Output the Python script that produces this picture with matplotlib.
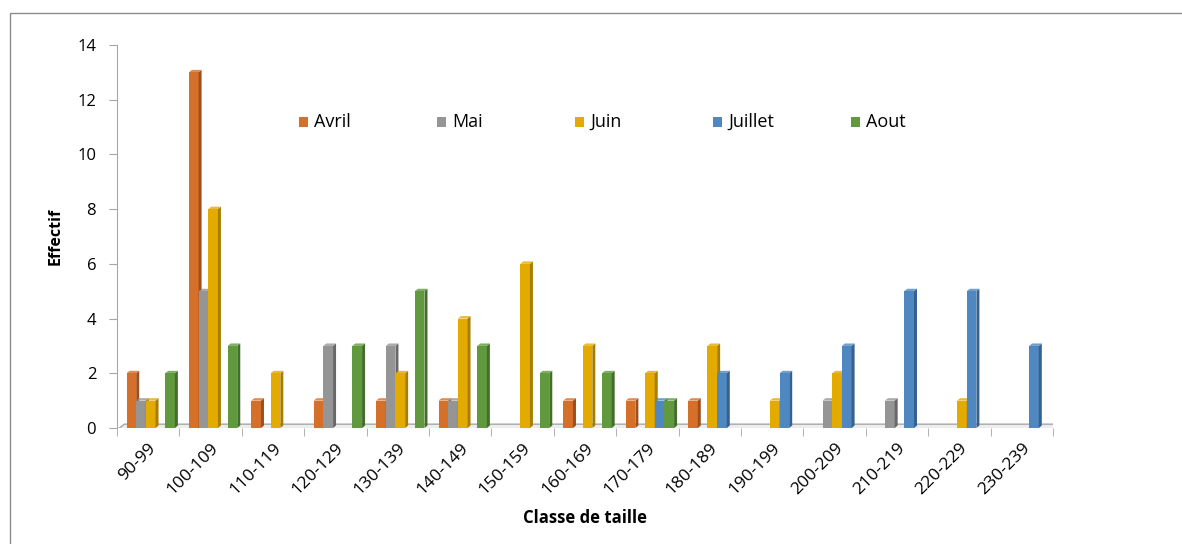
import numpy as np
import matplotlib
matplotlib.use("Agg")
import matplotlib.pyplot as plt
from matplotlib.patches import Polygon, Rectangle

plt.rcParams['font.family'] = ['Open Sans', 'DejaVu Sans']

classes = ["90-99", "100-109", "110-119", "120-129", "130-139", "140-149", "150-159",
           "160-169", "170-179", "180-189", "190-199", "200-209", "210-219", "220-229", "230-239"]
series = ["Avril", "Mai", "Juin", "Juillet", "Aout"]
avril = [2, 13, 1, 1, 1, 1, 0, 1, 1, 1, 0, 0, 0, 0, 0]
mai = [1, 5, 0, 3, 3, 1, 0, 0, 0, 0, 0, 1, 1, 0, 0]
juin = [1, 8, 2, 0, 2, 4, 6, 3, 2, 3, 1, 2, 0, 1, 0]
juillet = [0, 0, 0, 0, 0, 0, 0, 0, 1, 2, 2, 3, 5, 5, 3]
aout = [2, 3, 0, 3, 5, 3, 2, 2, 1, 0, 0, 0, 0, 0, 0]
values = [avril, mai, juin, juillet, aout]
colors = ["#D5702A", "#959595", "#E3AA00", "#4F87C0", "#619A3E"]
sides = ["#9E4F1B", "#686868", "#A87E00", "#36618E", "#436D2A"]

fig = plt.figure(figsize=(11.82, 5.44), dpi=100)
# cadre du graphique
fig.patches.append(Rectangle((10 / 1182, -0.1), 1.2, 1 - 13 / 544 + 0.1, transform=fig.transFigure,
                             fill=False, edgecolor="#8C8C8C", linewidth=1.0))
ax = fig.add_axes([117 / 1182, 1 - 428 / 544, 936 / 1182, 383 / 544])

n = len(classes)
w = 0.155
dx, dy = 0.048, 0.09
x = np.arange(n)

# sol 3D
floor = Polygon([(-0.5, -0.06), (n - 0.5, -0.06), (n - 0.5 + 0.12, 0.14), (-0.5 + 0.12, 0.14)],
                closed=True, facecolor="#EDEDED", edgecolor="#A6A6A6", linewidth=1.0, zorder=1)
ax.add_patch(floor)

for i, (vals, c, s) in enumerate(zip(values, colors, sides)):
    xs = x - 2.5 * w + i * w + 0.04
    for xi, v in zip(xs, vals):
        if v == 0:
            continue
        ax.bar(xi, v, width=w, align='edge', color=c, edgecolor='none', zorder=3)
        ax.add_patch(Polygon([(xi + w, 0), (xi + w + dx, dy), (xi + w + dx, v + dy), (xi + w, v)],
                             closed=True, facecolor=s, edgecolor='none', zorder=3))
        ax.add_patch(Polygon([(xi, v), (xi + dx, v + dy), (xi + w + dx, v + dy), (xi + w, v)],
                             closed=True, facecolor=c, edgecolor='none', alpha=0.8, zorder=3))

ax.set_xlim(-0.5, n - 0.5)
ax.set_ylim(0, 14)
ax.set_yticks(range(0, 15, 2))
ax.set_xticks(x)
ax.set_xticklabels(classes, rotation=45, ha='right', rotation_mode='anchor', fontsize=12.5)
ax.set_xticks(np.arange(-0.5, n, 1), minor=True)
ax.tick_params(axis='x', which='major', length=0, pad=9)
ax.tick_params(axis='x', which='minor', length=6, color="#A6A6A6")
ax.tick_params(axis='y', length=6, color="#A6A6A6", labelsize=12, pad=9)
for sp in ["top", "right"]:
    ax.spines[sp].set_visible(False)
ax.spines["bottom"].set_visible(False)
ax.spines["left"].set_color("#A6A6A6")

ax.set_ylabel("Effectif", fontsize=11.5, fontweight='bold', labelpad=10)
ax.set_xlabel("Classe de taille", fontsize=12, fontweight='bold', labelpad=8)

# légende à colonnes égales
for k, (name, c) in enumerate(zip(series, colors)):
    lx = (299 - 117 + k * 138) / 936
    ly = (428 - 122) / 383
    ax.add_patch(Rectangle((lx, ly - 0.013), 0.0095, 0.026, transform=ax.transAxes,
                           facecolor=c, edgecolor='none', clip_on=False))
    ax.text(lx + 0.016, ly, name, transform=ax.transAxes, va='center', ha='left', fontsize=13)

fig.savefig("out.png", dpi=100)
